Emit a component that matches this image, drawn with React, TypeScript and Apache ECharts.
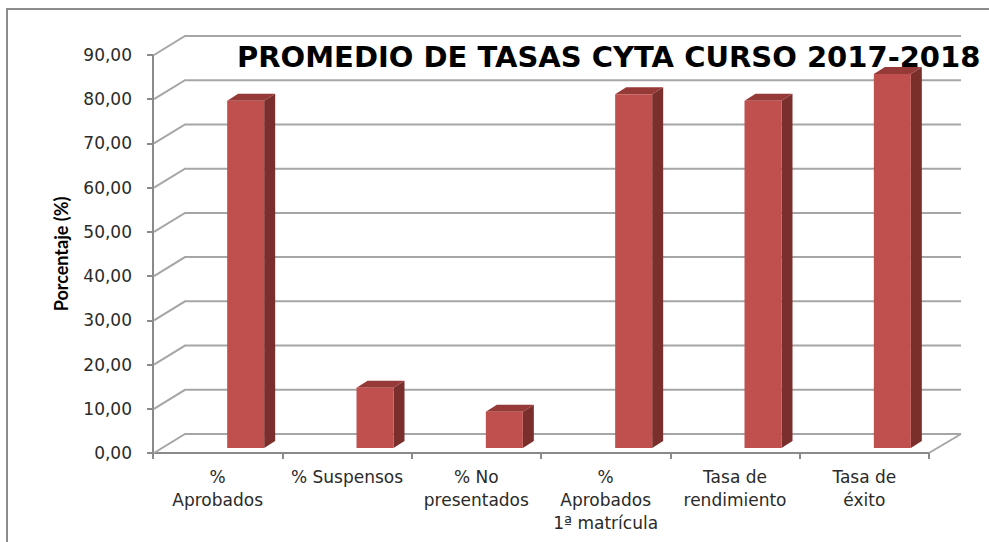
import React, { useEffect, useRef } from "react";
import * as echarts from "echarts";

const categories = [
  "%\nAprobados",
  "% Suspensos",
  "% No\npresentados",
  "%\nAprobados\n1ª matrícula",
  "Tasa de\nrendimiento",
  "Tasa de\néxito",
];
const values = [78.5, 13.6, 8.2, 80.0, 78.5, 84.6];
const yTicks = [0, 10, 20, 30, 40, 50, 60, 70, 80, 90];
const titleText = "PROMEDIO DE TASAS CYTA CURSO 2017-2018";
const yAxisTitle = "Porcentaje (%)";

const DX = 32;
const DY = -19;
const BAR_SHIFT = 28;
const BAR_HALF = 18.5;
const BAR_DX = 11;
const BAR_DY = -7;
const BAR_LIFT = 5;

export default function App() {
  const ref = useRef<HTMLDivElement>(null);
  useEffect(() => {
    if (!ref.current) return;
    const chart = echarts.init(ref.current, undefined, { renderer: "svg" });
    const option: any = {
      animation: false,
      backgroundColor: "#ffffff",
      title: {
        text: titleText,
        left: 232,
        top: 37,
        textStyle: {
          fontFamily: "DejaVu Sans",
          fontWeight: "bold",
          fontSize: 29,
          color: "#000000",
        },
      },
      graphic: [
        {
          type: "rect",
          shape: { x: 7, y: 9, width: 1000, height: 600 },
          style: { fill: "none", stroke: "#8c8c8c", lineWidth: 2 },
          z: -10,
        },
      ],
      grid: { left: 153, right: 60, top: 55, bottom: 89 },
      xAxis: {
        type: "category",
        data: categories,
        axisLine: { show: true, lineStyle: { color: "#8a8a8a", width: 2 } },
        axisTick: { show: true, length: 6, interval: 0, lineStyle: { color: "#8a8a8a", width: 2 } },
        axisLabel: {
          interval: 0,
          margin: 12,
          fontFamily: "DejaVu Sans",
          fontSize: 17,
          lineHeight: 23,
          color: "#2a2a2a",
        },
        splitLine: { show: false },
      },
      yAxis: {
        type: "value",
        min: 0,
        max: 90,
        interval: 10,
        name: yAxisTitle,
        nameLocation: "middle",
        nameRotate: 90,
        nameGap: 83,
        nameTextStyle: {
          fontFamily: "Lato",
          fontWeight: "bold",
          fontSize: 18,
          color: "#000000",
        },
        axisLine: { show: true, lineStyle: { color: "#8a8a8a", width: 2 } },
        axisTick: { show: true, length: 6, lineStyle: { color: "#8a8a8a", width: 2 } },
        axisLabel: {
          margin: 21,
          fontFamily: "DejaVu Sans",
          fontSize: 17,
          color: "#2a2a2a",
          formatter: (v: number) => v.toFixed(2).replace(".", ","),
        },
        splitLine: { show: false },
      },
      series: [
        {
          type: "custom",
          data: yTicks,
          silent: true,
          z: 1,
          renderItem: (params: any, api: any) => {
            const v = api.value(0);
            const cs = params.coordSys;
            const y = api.coord([0, v])[1];
            const x0 = cs.x;
            const x1 = cs.x + cs.width;
            const children: any[] = [
              {
                type: "polyline",
                shape: {
                  points: [
                    [x0 + 1, y],
                    [x0 + DX, y + DY],
                    [x1 + DX, y + DY],
                  ],
                },
                style: { stroke: "#a6a6a6", lineWidth: 2, fill: "none" },
              },
            ];
            if (v === 0) {
              children.push({
                type: "line",
                shape: { x1: x1, y1: y, x2: x1 + DX, y2: y + DY },
                style: { stroke: "#a6a6a6", lineWidth: 2 },
              });
            }
            return { type: "group", children };
          },
          encode: { y: 0 },
        },
        {
          type: "custom",
          data: values.map((v, i) => [i, v]),
          z: 5,
          renderItem: (params: any, api: any) => {
            const idx = api.value(0);
            const val = api.value(1);
            const top = api.coord([idx, val]);
            const base = api.coord([idx, 0]);
            const cx = top[0] + BAR_SHIFT;
            const l = cx - BAR_HALF;
            const r = cx + BAR_HALF;
            const t = top[1] - BAR_LIFT;
            const b = base[1] - BAR_LIFT;
            return {
              type: "group",
              children: [
                {
                  type: "polygon",
                  shape: {
                    points: [
                      [r, b],
                      [r + BAR_DX, b + BAR_DY],
                      [r + BAR_DX, t + BAR_DY],
                      [r, t],
                    ],
                  },
                  style: { fill: "#7a2f2d" },
                },
                {
                  type: "polygon",
                  shape: {
                    points: [
                      [l, t],
                      [l + BAR_DX, t + BAR_DY],
                      [r + BAR_DX, t + BAR_DY],
                      [r, t],
                    ],
                  },
                  style: { fill: "#963a38" },
                },
                {
                  type: "rect",
                  shape: { x: l, y: t, width: r - l, height: b - t },
                  style: { fill: "#c0504d" },
                },
              ],
            };
          },
          encode: { x: 0, y: 1 },
        },
      ],
    };
    chart.setOption(option);
    return () => chart.dispose();
  }, []);
  return (
    <div
      ref={ref}
      style={{ position: "fixed", left: 0, top: 0, width: 989, height: 542 }}
    />
  );
}
